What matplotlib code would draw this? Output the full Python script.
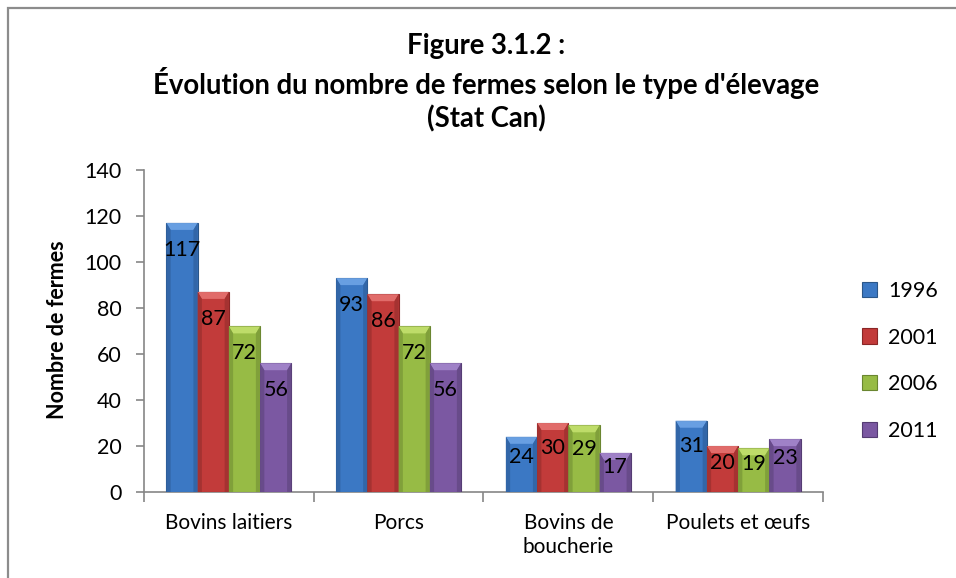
import numpy as np
import matplotlib.pyplot as plt
from matplotlib.patches import Rectangle, Polygon, Patch


# ── Data ──────────────────────────────────────────────────────────────────────

categories = ["Bovins laitiers", "Porcs", "Bovins de\nboucherie", "Poulets et œufs"]
years = ["1996", "2001", "2006", "2011"]
v1996 = [117, 93, 24, 31]
v2001 = [87, 86, 30, 20]
v2006 = [72, 72, 29, 19]
v2011 = [56, 56, 17, 23]
yticks = [0, 20, 40, 60, 80, 100, 120, 140]

TITLE = "Figure 3.1.2 :\nÉvolution du nombre de fermes selon le type d'élevage\n(Stat Can)"
YLABEL = "Nombre de fermes"

# ── Style ─────────────────────────────────────────────────────────────────────

FONT = ["Lato", "DejaVu Sans"]
COLORS = ["#3b78c4", "#c23b3a", "#97bb45", "#7b58a2"]
EDGES = ["#2a5689", "#8a2626", "#6a8630", "#553c73"]
TOPS = ["#6ea4e6", "#e57270", "#c3e06e", "#a486cc"]
SIDES = ["#3266a8", "#a53231", "#80a03a", "#684b8a"]
AXIS_GRAY = "#868686"
W, H = 956, 578
DPI = 100
BAR_W = 0.184

plt.rcParams["font.family"] = FONT


def bevel(ax, b, i, px_per_unit):
    # fake Excel bevel: light top facet, darker side facets
    x0 = b.get_x()
    x1 = x0 + b.get_width()
    v = b.get_height()
    hb = 7 / px_per_unit
    dx = 0.025
    ax.add_patch(Polygon([(x0, v), (x1, v), (x1 - dx, v - hb), (x0 + dx, v - hb)],
                         closed=True, facecolor=TOPS[i], edgecolor="none", alpha=0.9, zorder=4))
    ax.add_patch(Polygon([(x0, v), (x0 + dx, v - hb), (x0 + dx, 0), (x0, 0)],
                         closed=True, facecolor=SIDES[i], edgecolor="none", zorder=4))
    ax.add_patch(Polygon([(x1, v), (x1 - dx, v - hb), (x1 - dx, 0), (x1, 0)],
                         closed=True, facecolor=SIDES[i], edgecolor="none", zorder=4))


def main():
    fig = plt.figure(figsize=(W / DPI, H / DPI), dpi=DPI)
    fig.patch.set_facecolor("white")

    # outer chart frame (right/bottom edges run past the picture)
    fig.patches.append(Rectangle((8 / W, -0.2), 1.2, 1.2 - 8 / H, transform=fig.transFigure,
                                 fill=False, edgecolor="#8c8c8c", lw=1.6))

    ax = fig.add_axes([144 / W, 1 - 492 / H, (823 - 144) / W, (492 - 170) / H])
    series = [v1996, v2001, v2006, v2011]
    x = np.arange(len(categories))

    px_per_unit = (492 - 170) / 140.0
    for i, vals in enumerate(series):
        xs = x + (i - 1.5) * BAR_W
        bars = ax.bar(xs, vals, BAR_W, color=COLORS[i], edgecolor=EDGES[i], lw=0.8, zorder=3)
        for b, v in zip(bars, vals):
            bevel(ax, b, i, px_per_unit)
            ly = max(v - 27 / px_per_unit, v * 0.64)
            ax.text(b.get_x() + b.get_width() / 2, ly, str(v), ha="center", va="center",
                    fontsize=15.5, color="black", zorder=5)

    ax.set_xlim(-0.5, len(categories) - 0.5)
    ax.set_ylim(0, 140)
    ax.set_yticks(yticks)
    ax.set_yticklabels([str(t) for t in yticks], fontsize=15.5)
    ax.set_xticks(np.arange(len(categories) + 1) - 0.5)
    ax.set_xticklabels([])
    ax.set_xticks(x, minor=True)
    ax.set_xticklabels(categories, minor=True, fontsize=15, linespacing=1.25)
    ax.tick_params(axis="x", which="minor", length=0, pad=15)
    ax.tick_params(axis="x", which="major", length=7, color=AXIS_GRAY, width=1.2)
    ax.tick_params(axis="y", length=6, color=AXIS_GRAY, width=1.2, pad=10)

    for s in ["top", "right"]:
        ax.spines[s].set_visible(False)
    for s in ["left", "bottom"]:
        ax.spines[s].set_color(AXIS_GRAY)
        ax.spines[s].set_linewidth(1.2)

    fig.text(486 / W, 1 - 83 / H, TITLE, ha="center", va="center", fontsize=19.8,
             fontweight="bold", linespacing=1.3)
    fig.text(58 / W, 1 - 330 / H, YLABEL, rotation=90, ha="center", va="center",
             fontsize=15.5, fontweight="bold")

    handles = [Patch(facecolor=COLORS[i], edgecolor=EDGES[i], lw=0.8) for i in range(len(years))]
    fig.legend(handles, years, loc="center left", bbox_to_anchor=(862 / W, 1 - 361 / H),
               frameon=False, fontsize=15.5, handlelength=0.7, handleheight=0.7,
               handletextpad=0.5, labelspacing=1.25, borderpad=0, borderaxespad=0)

    fig.savefig("out.png", dpi=DPI)


if __name__ == "__main__":
    main()
